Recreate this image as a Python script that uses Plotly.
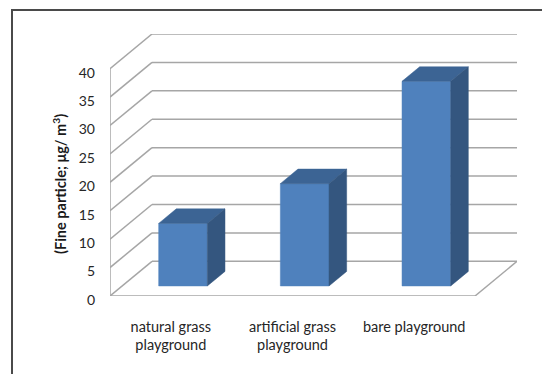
import plotly.graph_objects as go

# ---- data ----
categories = ["natural grass<br>playground", "artificial grass<br>playground", "bare playground"]
values = [11.0, 18.0, 36.0]
y_ticks = [0, 5, 10, 15, 20, 25, 30, 35, 40]

# ---- style / projection ----
DX = 0.345   # depth offset in category units
DY = 6.1     # depth offset in value units
F, B = 0.29, 0.71   # bar depth span (fraction)
HALF_W = 0.20       # half bar width in category units
GRID = "#A6A6A6"
FRONT = "#4F81BD"
TOP = "#3C6494"
SIDE = "#34567F"
FONT = "Lato"
TXT = "#262626"

fig = go.Figure()

def line(xs, ys, color=GRID, width=1.5):
    fig.add_trace(go.Scatter(x=xs, y=ys, mode="lines", line=dict(color=color, width=width),
                             hoverinfo="skip", showlegend=False))

def poly(xs, ys, color):
    fig.add_trace(go.Scatter(x=xs + [xs[0]], y=ys + [ys[0]], mode="lines", fill="toself",
                             fillcolor=color, line=dict(color=color, width=0.5),
                             hoverinfo="skip", showlegend=False))

n = len(categories)
top_v = max(y_ticks)

# back wall gridlines and left wall diagonals
for t in y_ticks:
    line([DX, n + DX], [t + DY, t + DY])
    line([0, DX], [t, t + DY])
# front-left axis
line([0, 0], [0, top_v])
# floor
line([0, n], [0, 0])
line([n, n + DX], [0, DY])

# bars
for i, v in enumerate(values):
    c = i + 0.5
    x0, x1 = c - HALF_W, c + HALF_W
    # front face
    poly([x0 + F * DX, x1 + F * DX, x1 + F * DX, x0 + F * DX],
         [F * DY, F * DY, v + F * DY, v + F * DY], FRONT)
    # top face
    poly([x0 + F * DX, x1 + F * DX, x1 + B * DX, x0 + B * DX],
         [v + F * DY, v + F * DY, v + B * DY, v + B * DY], TOP)
    # side face
    poly([x1 + F * DX, x1 + B * DX, x1 + B * DX, x1 + F * DX],
         [F * DY, B * DY, v + B * DY, v + F * DY], SIDE)

W, H = 542, 374
ML, MR, MT, MB = 110, 25, 34, 78
pw, ph = W - ML - MR, H - MT - MB

def px_to_paper_x(px):
    return (px - ML) / pw

def px_to_paper_y(py):
    return (H - MB - py) / ph

fig.update_layout(
    width=W, height=H,
    margin=dict(l=ML, r=MR, t=MT, b=MB),
    paper_bgcolor="white", plot_bgcolor="white",
    font=dict(family=FONT, size=14, color=TXT),
    xaxis=dict(range=[0, n + DX], showgrid=False, zeroline=False, showline=False,
               tickvals=[i + 0.5 for i in range(n)], ticktext=categories,
               ticks="", ticklabelstandoff=20, fixedrange=True,
               tickfont=dict(family=FONT, size=14.5, color=TXT)),
    yaxis=dict(range=[0, top_v + DY], showgrid=False, zeroline=False, showline=False,
               tickvals=y_ticks, ticktext=[str(t) for t in y_ticks],
               ticks="", ticklabelstandoff=14, ticklabelshift=4, fixedrange=True,
               tickfont=dict(family=FONT, size=14, color=TXT)),
    annotations=[dict(
        text="<b>(Fine particle; μg/ m<sup>3</sup>)</b>",
        textangle=-90, xref="paper", yref="paper",
        x=px_to_paper_x(59), y=px_to_paper_y(184),
        xanchor="center", yanchor="middle", showarrow=False,
        font=dict(family=FONT, size=14.5, color="#1a1a1a", weight=700))],
    shapes=[
        dict(type="line", xref="paper", yref="paper",
             x0=px_to_paper_x(12), x1=px_to_paper_x(12),
             y0=px_to_paper_y(10), y1=px_to_paper_y(380),
             line=dict(color="#4a4a4a", width=2)),
        dict(type="line", xref="paper", yref="paper",
             x0=px_to_paper_x(11), x1=px_to_paper_x(548),
             y0=px_to_paper_y(10), y1=px_to_paper_y(10),
             line=dict(color="#4a4a4a", width=2)),
    ],
)

fig.write_html("out.html")
